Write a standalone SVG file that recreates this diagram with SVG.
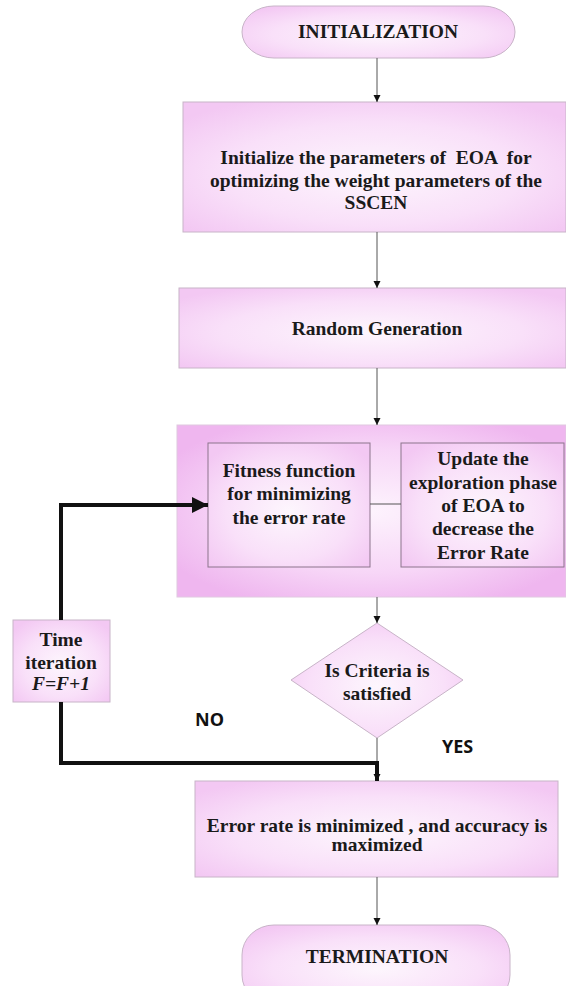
<svg xmlns="http://www.w3.org/2000/svg" width="566" height="986" viewBox="0 0 566 986">
<defs>
<radialGradient id="g" cx="50%" cy="55%" r="65%">
<stop offset="0" stop-color="#fdf6fd"/>
<stop offset="0.6" stop-color="#f9e0f9"/>
<stop offset="1" stop-color="#f3c8f3"/>
</radialGradient>
<radialGradient id="gc" cx="50%" cy="50%" r="60%">
<stop offset="0" stop-color="#fdf3fd"/>
<stop offset="0.6" stop-color="#f7d6f7"/>
<stop offset="1" stop-color="#efb6ef"/>
</radialGradient>
<marker id="a" viewBox="0 0 10 10" refX="10" refY="5" markerWidth="7" markerHeight="9" markerUnits="userSpaceOnUse" orient="auto">
<path d="M0,0 L10,5 L0,10 z" fill="#111"/>
</marker>
<marker id="ab" viewBox="0 0 10 10" refX="10" refY="5" markerWidth="22" markerHeight="16" markerUnits="userSpaceOnUse" orient="auto">
<path d="M0,0 L10,5 L0,10 z" fill="#111"/>
</marker>
</defs>
<style>
.b{fill:url(#g);stroke:#c8b4c8;stroke-width:1}
.in{fill:url(#g);stroke:#8c748c;stroke-width:1}
.t{font-family:"Liberation Serif","Times New Roman",serif;font-weight:bold;font-size:19.5px;fill:#1a1a1a;text-anchor:middle}
.s{font-family:"Open Sans","Liberation Sans",sans-serif;font-weight:bold;font-size:18px;fill:#111}
.thin{stroke:#555;stroke-width:1;fill:none}
.thick{stroke:#111;stroke-width:4;fill:none}
</style>
<rect width="566" height="986" fill="#fff"/>
<g id="n-init">
<rect class="b" x="242" y="6" width="273" height="52" rx="32" ry="26"/>
<text class="t" x="378" y="38" font-size="18.5">INITIALIZATION</text>
</g>
<g id="n-params">
<rect class="b" x="183" y="102" width="383" height="130"/>
<text class="t" x="376" y="164" xml:space="preserve">Initialize the parameters of  EOA  for</text>
<text class="t" x="376" y="187">optimizing the weight parameters of the</text>
<text class="t" x="376" y="209">SSCEN</text>
</g>
<g id="n-random">
<rect class="b" x="179" y="288" width="387" height="80"/>
<text class="t" x="377" y="335">Random Generation</text>
</g>
<g id="n-container">
<rect x="177" y="425" width="389" height="172" fill="url(#gc)" stroke="#e0c8e0"/>
</g>
<g id="n-fitness">
<rect class="in" x="208" y="443" width="162" height="124"/>
<text class="t" x="289" y="477">Fitness function</text>
<text class="t" x="289" y="500">for minimizing</text>
<text class="t" x="289" y="524">the error rate</text>
</g>
<g id="n-update">
<rect class="in" x="401" y="443" width="163" height="124"/>
<text class="t" x="483" y="465">Update the</text>
<text class="t" x="483" y="489">exploration phase</text>
<text class="t" x="483" y="512">of EOA to</text>
<text class="t" x="483" y="535">decrease the</text>
<text class="t" x="483" y="559">Error Rate</text>
</g>
<g id="n-decision">
<polygon class="b" points="377,623 463,680 377,738 291,680"/>
<text class="t" x="377" y="677">Is Criteria is</text>
<text class="t" x="377" y="700">satisfied</text>
</g>
<g id="n-time">
<rect class="b" x="13" y="620" width="97" height="82"/>
<text class="t" x="61" y="646">Time</text>
<text class="t" x="61" y="669">iteration</text>
<text class="t" x="61" y="690" font-style="italic">F=F+1</text>
</g>
<text class="s" x="195" y="726">NO</text>
<text class="s" x="442" y="753">YES</text>
<g id="n-result">
<rect class="b" x="195" y="781" width="363" height="96"/>
<text class="t" x="377" y="832" font-size="20">Error rate is minimized , and accuracy is</text>
<text class="t" x="377" y="851" font-size="20">maximized</text>
</g>
<g id="n-term">
<rect class="b" x="242" y="925" width="268" height="80" rx="32" ry="30"/>
<text class="t" x="377" y="963" font-size="18.5">TERMINATION</text>
</g>
<g id="connectors">
<line class="thin" x1="377" y1="58" x2="377" y2="102" marker-end="url(#a)"/>
<line class="thin" x1="377" y1="232" x2="377" y2="288" marker-end="url(#a)"/>
<line class="thin" x1="377" y1="368" x2="377" y2="425" marker-end="url(#a)"/>
<line class="thin" x1="377" y1="597" x2="377" y2="623" marker-end="url(#a)"/>
<line class="thin" x1="377" y1="738" x2="377" y2="764"/>
<line class="thin" x1="377" y1="877" x2="377" y2="925" marker-end="url(#a)"/>
<line class="thin" x1="370" y1="504" x2="401" y2="504"/>
<polyline class="thick" points="61,620 61,505 208,505" marker-end="url(#ab)"/>
<polyline class="thick" points="61,702 61,763 377,763 377,781" marker-end="url(#a)"/>
</g>
</svg>
